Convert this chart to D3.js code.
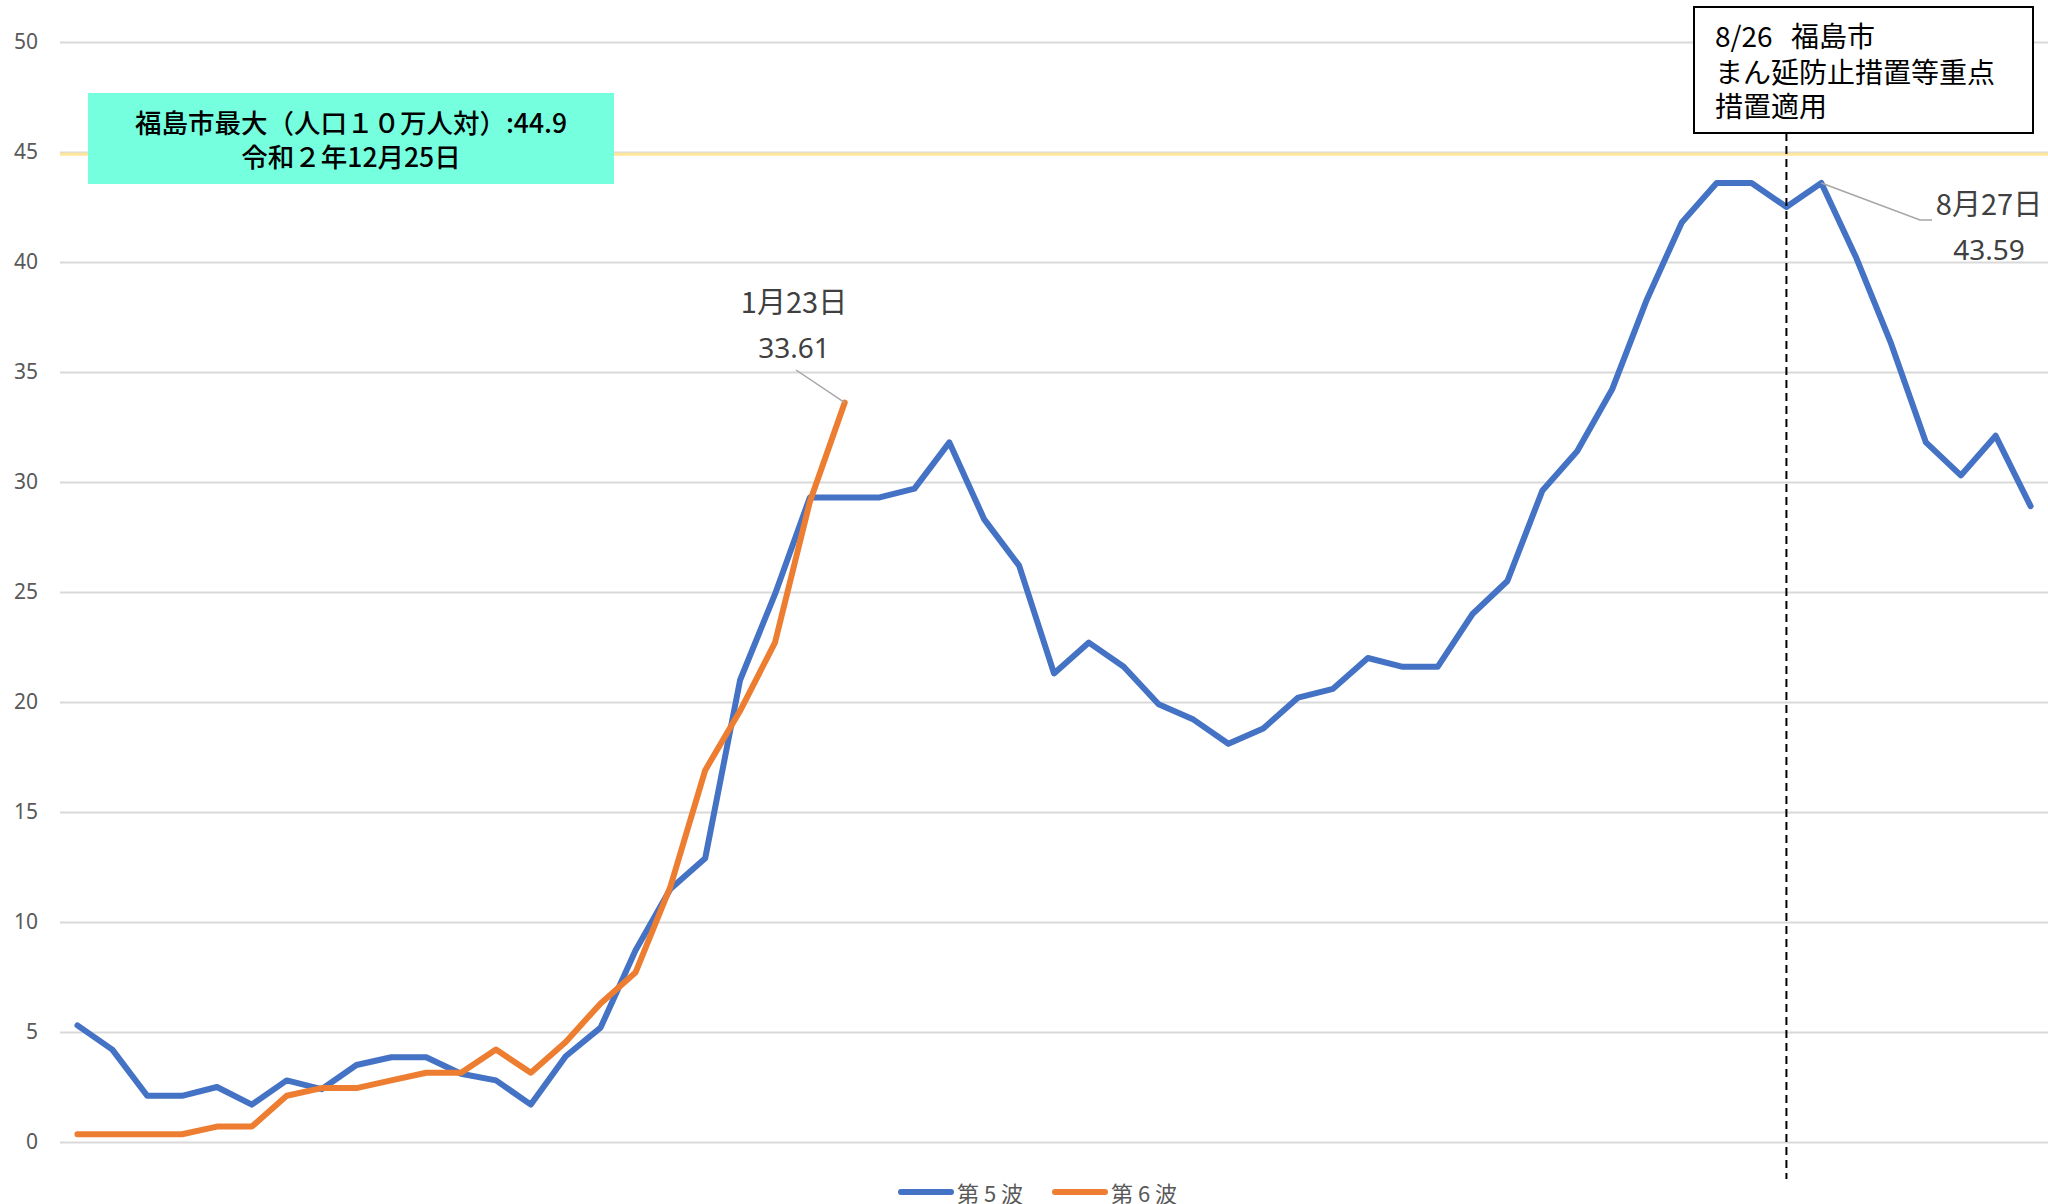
<!DOCTYPE html>
<html>
<head>
<meta charset="utf-8">
<script src="https://cdn.jsdelivr.net/npm/d3@7"></script>
<style>
  body { margin: 0; background: #fff; }
  svg { display: block; font-family: "Noto Sans CJK JP", "Noto Sans", sans-serif; }
</style>
</head>
<body>
<svg></svg>
<script>
// data (per 100k population, 7-day)
const wave5 = [5.3, 4.2, 2.1, 2.1, 2.5, 1.7, 2.8, 2.4, 3.5, 3.85, 3.85, 3.1, 2.8, 1.7, 3.9, 5.2,
  8.7, 11.5, 12.9, 21.0, 24.9, 29.3, 29.3, 29.3, 29.7, 31.8, 28.3, 26.2, 21.3, 22.7, 21.6,
  19.9, 19.2, 18.1, 18.8, 20.2, 20.6, 22.0, 21.6, 21.6, 24.0, 25.5, 29.6, 31.4, 34.2, 38.3,
  41.8, 43.59, 43.59, 42.5, 43.59, 40.2, 36.3, 31.8, 30.3, 32.1, 28.9];
const wave6 = [0.35, 0.35, 0.35, 0.35, 0.7, 0.7, 2.1, 2.45, 2.45, 2.8, 3.15, 3.15, 4.2, 3.15,
  4.55, 6.3, 7.7, 11.6, 16.9, 19.6, 22.7, 29.1, 33.61];
const seriesNames = ["第 5 波", "第 6 波"];
const seriesColors = ["#4472C4", "#ED7D31"];
const yTicks = [0, 5, 10, 15, 20, 25, 30, 35, 40, 45, 50];
const maxValue = 44.9;
const maxLabel = ["福島市最大（人口１０万人対）:44.9", "令和２年12月25日"];
const measureIndex = 49; // 8/26
const measureLabel = ["8/26", "福島市", "まん延防止措置等重点", "措置適用"];
const peak6 = { index: 22, date: "1月23日", value: 33.61 };
const peak5 = { index: 50, date: "8月27日", value: 43.59 };

const width = 2048, height = 1204;
const svg = d3.select("svg").attr("width", width).attr("height", height);

const x = d3.scaleBand().domain(d3.range(wave5.length)).range([60, 2048]);
const y = d3.scaleLinear().domain([0, 50]).range([1142, 42]);
const cx = i => x(i) + x.bandwidth() / 2;

// grid
svg.append("g")
  .attr("transform", "translate(60,0)")
  .call(d3.axisLeft(y).tickValues(yTicks).tickSize(-(width - 60)).tickFormat(""))
  .call(g => g.select(".domain").remove())
  .call(g => g.selectAll("line").attr("stroke", "#D9D9D9").attr("stroke-width", 2));

// y labels
svg.append("g")
  .attr("transform", "translate(60,0)")
  .call(d3.axisLeft(y).tickValues(yTicks).tickSize(0).tickPadding(22))
  .call(g => g.select(".domain").remove())
  .call(g => g.selectAll("text")
    .attr("fill", "#595959")
    .attr("font-size", 21)
    .attr("font-family", "'Noto Sans', sans-serif"));

// max reference line
svg.append("line")
  .attr("x1", 60).attr("x2", width)
  .attr("y1", y(maxValue)).attr("y2", y(maxValue))
  .attr("stroke", "#FFE699").attr("stroke-width", 3);

// lines
const line = d3.line().x((d, i) => cx(i)).y(d => y(d));
[wave5, wave6].forEach((s, k) => {
  svg.append("path")
    .attr("d", line(s))
    .attr("fill", "none")
    .attr("stroke", seriesColors[k])
    .attr("stroke-width", 6)
    .attr("stroke-linejoin", "round")
    .attr("stroke-linecap", "round");
});

// dashed measure line
svg.append("line")
  .attr("x1", cx(measureIndex)).attr("x2", cx(measureIndex))
  .attr("y1", 133).attr("y2", 1179)
  .attr("stroke", "#000").attr("stroke-width", 2)
  .attr("stroke-dasharray", "8,5");

// measure box
svg.append("rect")
  .attr("x", 1694).attr("y", 7).attr("width", 339).attr("height", 126)
  .attr("fill", "#fff").attr("stroke", "#000").attr("stroke-width", 2);
const mText = svg.append("g")
  .attr("font-size", 28)
  .attr("fill", "#000")
  .attr("dominant-baseline", "central");
mText.append("text").attr("x", 1715).attr("y", 35).text(measureLabel[0]);
mText.append("text").attr("x", 1791).attr("y", 35).text(measureLabel[1]);
mText.append("text").attr("x", 1715).attr("y", 71).text(measureLabel[2]);
mText.append("text").attr("x", 1715).attr("y", 105).text(measureLabel[3]);

// max box
svg.append("rect")
  .attr("x", 88).attr("y", 93).attr("width", 526).attr("height", 91)
  .attr("fill", "#75FFDE");
svg.append("g").selectAll("text").data(maxLabel).join("text")
  .attr("x", 351)
  .attr("y", (d, i) => 121 + i * 34)
  .attr("text-anchor", "middle")
  .attr("dominant-baseline", "central")
  .attr("font-size", 26.5)
  .attr("font-weight", 500)
  .attr("fill", "#000")
  .text(d => d);

// peak annotations
function annotate(p, series, tx, ty, pts) {
  svg.append("polyline")
    .attr("points", [[cx(p.index), y(series[p.index])], ...pts].map(d => d.join(",")).join(" "))
    .attr("fill", "none").attr("stroke", "#A6A6A6").attr("stroke-width", 1.5);
  svg.append("text")
    .attr("x", tx).attr("y", ty)
    .attr("text-anchor", "middle").attr("dominant-baseline", "central")
    .attr("font-size", 29).attr("fill", "#404040")
    .text(p.date);
  svg.append("text")
    .attr("x", tx).attr("y", ty + 47)
    .attr("text-anchor", "middle").attr("dominant-baseline", "central")
    .attr("font-size", 28).attr("fill", "#404040")
    .attr("font-family", "'Noto Sans', sans-serif")
    .text(p.value.toFixed(2));
}
annotate(peak6, wave6, 794, 300, [[796, 370]]);
annotate(peak5, wave5, 1989, 202, [[1920, 220], [1932, 220]]);

// legend
const legend = svg.append("g").selectAll("g").data(seriesNames).join("g")
  .attr("transform", (d, i) => `translate(${901 + i * 154},1192)`);
legend.append("line")
  .attr("x1", 0).attr("x2", 50)
  .attr("stroke", (d, i) => seriesColors[i])
  .attr("stroke-width", 6).attr("stroke-linecap", "round");
legend.append("text")
  .attr("x", 56).attr("y", 0)
  .attr("dominant-baseline", "central")
  .attr("font-size", 22).attr("fill", "#595959")
  .text(d => d);
</script>
</body>
</html>
